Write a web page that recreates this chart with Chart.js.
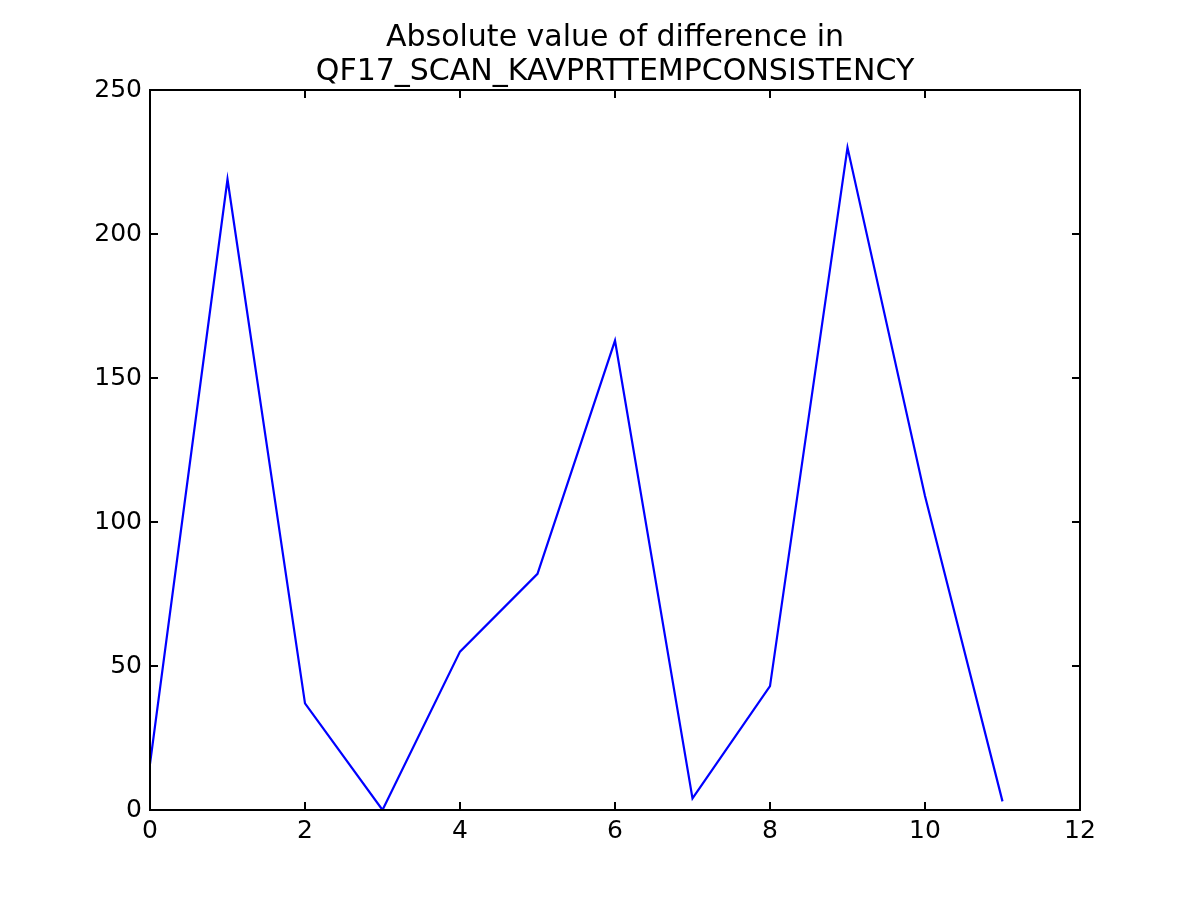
<!DOCTYPE html>
<html>
<head>
<meta charset="utf-8">
<script src="https://cdn.jsdelivr.net/npm/chart.js@4"></script>
<style>
html,body{margin:0;padding:0;background:#fff;}
canvas{display:block;}
</style>
</head>
<body>
<canvas id="c" width="1200" height="900"></canvas>
<script>
const xValues = [0, 1, 2, 3, 4, 5, 6, 7, 8, 9, 10, 11];
const yValues = [16, 219, 37, 0, 55, 82, 163, 4, 43, 230, 109, 3];
const titleLines = ['Absolute value of difference in', 'QF17_SCAN_KAVPRTTEMPCONSISTENCY'];
const xTicks = [0, 2, 4, 6, 8, 10, 12];
const yTicks = [0, 50, 100, 150, 200, 250];

const FONT = "'DejaVu Sans', sans-serif";

const framePlugin = {
  id: 'frame',
  afterDraw(chart) {
    const ctx = chart.ctx;
    const a = chart.chartArea;
    const xs = chart.scales.x, ys = chart.scales.y;
    ctx.save();
    ctx.strokeStyle = '#000';
    ctx.lineWidth = 2;
    const L = 8;
    ctx.beginPath();
    xTicks.forEach(v => {
      const px = Math.round(xs.getPixelForValue(v));
      ctx.moveTo(px, a.bottom); ctx.lineTo(px, a.bottom - L);
      ctx.moveTo(px, a.top); ctx.lineTo(px, a.top + L);
    });
    yTicks.forEach(v => {
      const py = Math.round(ys.getPixelForValue(v));
      ctx.moveTo(a.left, py); ctx.lineTo(a.left + L, py);
      ctx.moveTo(a.right, py); ctx.lineTo(a.right - L, py);
    });
    ctx.stroke();
    ctx.strokeRect(a.left, a.top, a.right - a.left, a.bottom - a.top);
    // title centred over the axes
    ctx.fillStyle = '#000';
    ctx.font = "30px " + FONT;
    ctx.textAlign = 'center';
    ctx.textBaseline = 'middle';
    const cx = (a.left + a.right) / 2;
    ctx.fillText(titleLines[0], cx, 38);
    ctx.fillText(titleLines[1], cx, 72);
    ctx.restore();
  }
};

new Chart(document.getElementById('c'), {
  type: 'line',
  data: {
    datasets: [{
      data: xValues.map((x, i) => ({x: x, y: yValues[i]})),
      borderColor: '#0000ff',
      borderWidth: 2.2,
      pointRadius: 0,
      tension: 0,
      fill: false
    }]
  },
  options: {
    responsive: false,
    animation: false,
    devicePixelRatio: 1,
    layout: { padding: { left: 0, right: 120, top: 90, bottom: 0 } },
    plugins: {
      legend: { display: false },
      tooltip: { enabled: false },
      title: { display: false }
    },
    scales: {
      x: {
        type: 'linear',
        min: 0, max: 12,
        grid: { display: false },
        border: { display: false },
        afterBuildTicks: s => { s.ticks = xTicks.map(v => ({value: v})); },
        afterFit: s => { s.height = 90; },
        ticks: { color: '#000', font: { family: FONT, size: 25 }, padding: -2, maxRotation: 0 }
      },
      y: {
        type: 'linear',
        min: 0, max: 250,
        grid: { display: false },
        border: { display: false },
        afterBuildTicks: s => { s.ticks = yTicks.map(v => ({value: v})); },
        afterFit: s => { s.width = 150; },
        ticks: { color: '#000', font: { family: FONT, size: 25 }, padding: 0 }
      }
    }
  },
  plugins: [framePlugin]
});
</script>
</body>
</html>
